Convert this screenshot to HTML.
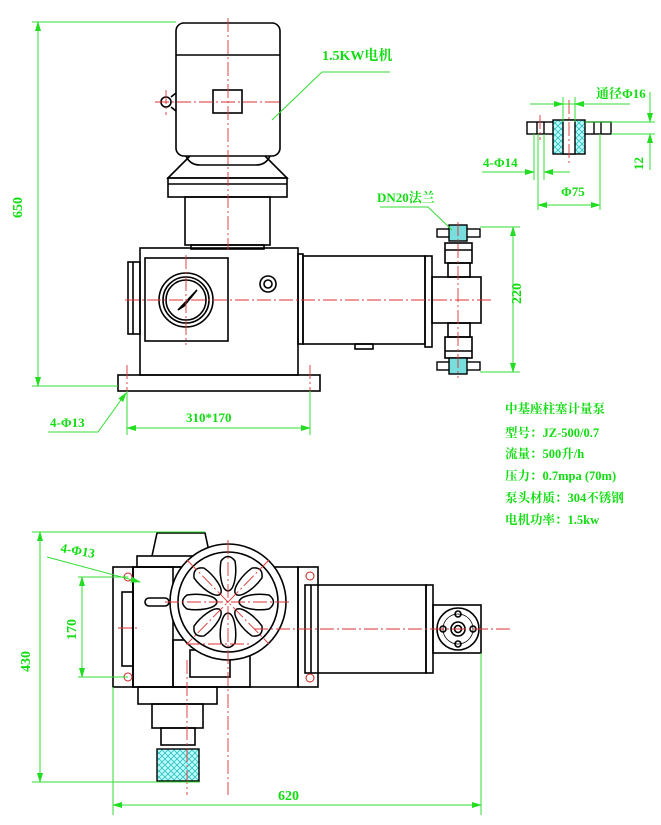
<!DOCTYPE html>
<html><head><meta charset="utf-8"><style>
html,body{margin:0;padding:0;background:#fff;}
svg{display:block;}
text{font-family:"Liberation Serif","Noto Serif CJK SC",serif;font-weight:bold;fill:#11dd11;}
</style></head><body>
<svg width="661" height="825" viewBox="0 0 661 825" xmlns="http://www.w3.org/2000/svg">
<defs>
<marker id="a" markerWidth="10" markerHeight="6" refX="9" refY="3" orient="auto-start-reverse"><path d="M0,0 L10,3 L0,6 z" fill="#22dd22"/></marker>
<pattern id="hx" width="6" height="6" patternUnits="userSpaceOnUse"><rect width="6" height="6" fill="#bff"/><path d="M0,0 L6,6 M6,0 L0,6" stroke="#3bb" stroke-width="0.8"/></pattern>
</defs>
<g fill="none" stroke="#000" stroke-width="1.6">
<rect x="176" y="23" width="104" height="133" rx="8"/>
<line x1="176" y1="55" x2="280" y2="55"/>
<rect x="213" y="90" width="29" height="23"/>
<circle cx="166" cy="102" r="5"/>
<path d="M171,97 L176,93 M171,107 L176,111"/>
<path d="M186,156 Q190,165 200,165 L256,165 Q266,165 270,156"/>
<path d="M190,156 L168,178 L287,178 L265,156"/>
<rect x="168" y="178" width="119" height="19"/>
<line x1="168" y1="184" x2="287" y2="184"/>
<rect x="185" y="197" width="85" height="48"/>
<rect x="191" y="245" width="73" height="4"/>
<rect x="140" y="248" width="158" height="127"/>
<rect x="128" y="262" width="12" height="72"/>
<line x1="133" y1="262" x2="133" y2="334"/>
<rect x="145" y="258" width="83" height="83"/>
<circle cx="186" cy="300" r="27"/>
<circle cx="186" cy="300" r="23"/>
<circle cx="186" cy="300" r="20"/>
<path d="M178,310 L197,290 L184,306 z" fill="#000"/>
<circle cx="268" cy="284" r="8"/>
<circle cx="268" cy="284" r="4"/>
<rect x="118" y="375" width="202" height="16"/>
<rect x="298" y="254" width="5" height="90"/>
<rect x="303" y="256" width="122" height="88"/>
<rect x="425" y="256" width="7" height="91"/>
<rect x="432" y="277" width="49" height="46"/>
<rect x="355" y="344" width="18" height="5"/>
<rect x="445" y="243" width="27" height="20"/>
<line x1="445" y1="250" x2="472" y2="250"/>
<rect x="448" y="263" width="22" height="14"/>
<rect x="448" y="323" width="22" height="14"/>
<rect x="445" y="337" width="27" height="21"/>
<line x1="445" y1="351" x2="472" y2="351"/>
</g>
<g stroke="#000" stroke-width="1.4">
<rect x="437" y="229" width="43" height="8" fill="#fff"/>
<rect x="449" y="225" width="18" height="16" fill="#7dd"/>
<rect x="437" y="362" width="43" height="8" fill="#fff"/>
<rect x="449" y="358" width="18" height="16" fill="#7dd"/>
</g>
<g stroke="#000" stroke-width="1.4">
<rect x="527" y="122" width="84" height="12" fill="#fff"/>
<rect x="553" y="120" width="32" height="34" fill="url(#hx)"/>
<rect x="563" y="120" width="12" height="34" fill="#fff"/>
<line x1="537" y1="122" x2="537" y2="134"/><line x1="544" y1="122" x2="544" y2="134"/>
<line x1="594" y1="122" x2="594" y2="134"/><line x1="601" y1="122" x2="601" y2="134"/>
</g>
<g fill="none" stroke="#000" stroke-width="1.6">
<path d="M152,556 L157,533 L205,533 L210,556"/>
<rect x="137" y="556" width="58" height="11"/>
<rect x="113" y="567" width="20" height="120"/>
<rect x="122" y="592" width="11" height="74"/>
<rect x="133" y="567" width="40" height="120"/>
<rect x="173" y="640" width="77" height="47"/>
<rect x="190" y="650" width="40" height="27"/>
<rect x="298" y="567" width="20" height="120"/>
<rect x="133" y="567" width="165" height="120"/>
<rect x="145" y="598" width="24" height="8" rx="4"/>
<circle cx="228" cy="602" r="58" fill="#fff"/>
<circle cx="228" cy="602" r="50"/>
<rect x="138" y="687" width="79" height="17"/>
<rect x="152" y="704" width="51" height="24"/>
<rect x="161" y="728" width="34" height="17"/>
<rect x="305" y="585" width="121" height="88"/>
<line x1="311" y1="585" x2="311" y2="673"/>
<rect x="426" y="585" width="7" height="88"/>
<rect x="433" y="605" width="48" height="48"/>
<circle cx="458" cy="629" r="21"/>
<circle cx="458" cy="629" r="15" stroke-width="0.8"/>
<circle cx="458" cy="629" r="7"/><circle cx="458" cy="629" r="3.5"/>
<circle cx="458" cy="614" r="3"/><circle cx="458" cy="644" r="3"/>
<circle cx="443" cy="629" r="3"/><circle cx="473" cy="629" r="3"/>
</g>
<g fill="none" stroke="#000" stroke-width="1.5">
<g id="p"><path d="M228,591 C221,590 219,572 221,561 Q228,552 235,561 C237,572 235,590 228,591 z"/></g>
<use href="#p" transform="rotate(45 228 602)"/><use href="#p" transform="rotate(90 228 602)"/>
<use href="#p" transform="rotate(135 228 602)"/><use href="#p" transform="rotate(180 228 602)"/>
<use href="#p" transform="rotate(225 228 602)"/><use href="#p" transform="rotate(270 228 602)"/>
<use href="#p" transform="rotate(315 228 602)"/>
</g>
<g stroke="#c22" stroke-width="1" fill="none">
<circle cx="128" cy="577" r="4"/><circle cx="128" cy="677" r="4"/>
<circle cx="310" cy="576" r="4"/><circle cx="310" cy="678" r="4"/>
</g>
<rect x="157" y="749" width="42" height="32" fill="url(#hx)" stroke="#000" stroke-width="1.4"/>
<g stroke="#d33" stroke-width="0.9" stroke-dasharray="14,3,2,3" fill="none">
<line x1="228" y1="18" x2="228" y2="250"/>
<line x1="155" y1="102" x2="282" y2="102"/>
<line x1="166" y1="90" x2="166" y2="115"/>
<line x1="125" y1="300" x2="492" y2="300"/>
<line x1="186" y1="255" x2="186" y2="345"/>
<line x1="127" y1="365" x2="127" y2="432"/>
<line x1="310" y1="365" x2="310" y2="432"/>
<line x1="458" y1="222" x2="458" y2="378"/>
<line x1="228" y1="540" x2="228" y2="795"/>
<line x1="165" y1="602" x2="290" y2="602"/>
<line x1="254" y1="629" x2="510" y2="629"/>
<line x1="186" y1="644" x2="250" y2="644"/>
<line x1="187" y1="660" x2="187" y2="795"/>
<line x1="187" y1="560" x2="269" y2="644"/>
<line x1="269" y1="560" x2="187" y2="644"/>
<line x1="118" y1="628" x2="138" y2="628"/>
<line x1="569" y1="100" x2="569" y2="165"/>
<line x1="540" y1="115" x2="540" y2="140"/>
</g>
<g stroke="#33dd33" stroke-width="1" fill="none">
<line x1="32" y1="22" x2="176" y2="22"/>
<line x1="32" y1="386" x2="118" y2="386"/>
<line x1="38" y1="22" x2="38" y2="386" marker-start="url(#a)" marker-end="url(#a)"/>
<line x1="127" y1="391" x2="127" y2="435"/>
<line x1="310" y1="391" x2="310" y2="435"/>
<line x1="127" y1="428" x2="310" y2="428" marker-start="url(#a)" marker-end="url(#a)"/>
<path d="M48,432 L98,432 L126,393" marker-end="url(#a)"/>
<line x1="480" y1="227" x2="520" y2="227"/>
<line x1="480" y1="372" x2="520" y2="372"/>
<line x1="513" y1="227" x2="513" y2="372" marker-start="url(#a)" marker-end="url(#a)"/>
<path d="M322,72 L390,72 M322,72 L272,120"/>
<path d="M380,207 L428,207 L452,230"/>
<line x1="32" y1="532" x2="205" y2="532"/>
<line x1="32" y1="782" x2="200" y2="782"/>
<line x1="40" y1="532" x2="40" y2="782" marker-start="url(#a)" marker-end="url(#a)"/>
<line x1="78" y1="577" x2="128" y2="577"/>
<line x1="78" y1="677" x2="128" y2="677"/>
<line x1="82" y1="577" x2="82" y2="677" marker-start="url(#a)" marker-end="url(#a)"/>
<line x1="47" y1="557" x2="140" y2="582" marker-end="url(#a)"/>
<line x1="113" y1="687" x2="113" y2="815"/>
<line x1="481" y1="653" x2="481" y2="815"/>
<line x1="113" y1="805" x2="481" y2="805" marker-start="url(#a)" marker-end="url(#a)"/>
<line x1="530" y1="104" x2="630" y2="104"/>
<line x1="563" y1="97" x2="563" y2="122"/><line x1="575" y1="97" x2="575" y2="122"/>
<line x1="548" y1="104" x2="563" y2="104" marker-end="url(#a)"/>
<line x1="590" y1="104" x2="575" y2="104" marker-end="url(#a)"/>
<line x1="585" y1="122" x2="655" y2="122"/><line x1="611" y1="134" x2="655" y2="134"/>
<line x1="650" y1="92" x2="650" y2="122" marker-end="url(#a)"/>
<line x1="650" y1="170" x2="650" y2="134" marker-end="url(#a)"/>
<line x1="534" y1="134" x2="534" y2="180"/><line x1="544" y1="134" x2="544" y2="180"/>
<line x1="538" y1="134" x2="538" y2="210"/><line x1="600" y1="134" x2="600" y2="210"/>
<line x1="538" y1="205" x2="600" y2="205" marker-start="url(#a)" marker-end="url(#a)"/>
<line x1="482" y1="172" x2="534" y2="172" marker-end="url(#a)"/>
<line x1="570" y1="172" x2="544" y2="172" marker-end="url(#a)"/>
</g>
<text x="322" y="60" font-size="14">1.5KW电机</text>
<text x="377" y="202" font-size="13">DN20法兰</text>
<text x="50" y="427" font-size="13">4-Φ13</text>
<text x="186" y="422" font-size="13">310*170</text>
<text x="0" y="0" font-size="14" transform="translate(22,218) rotate(-90)">650</text>
<text x="0" y="0" font-size="14" transform="translate(521,304) rotate(-90)">220</text>
<text x="596" y="98" font-size="13">通径Φ16</text>
<text x="0" y="0" font-size="13" transform="translate(643,170) rotate(-90)">12</text>
<text x="483" y="167" font-size="13">4-Φ14</text>
<text x="561" y="196" font-size="13">Φ75</text>
<text x="60" y="552" font-size="13" transform="rotate(10 60 552)">4-Φ13</text>
<text x="0" y="0" font-size="14" transform="translate(76,640) rotate(-90)">170</text>
<text x="0" y="0" font-size="14" transform="translate(30,672) rotate(-90)">430</text>
<text x="278" y="800" font-size="14">620</text>
<g font-size="12.5">
<text x="505" y="413">中基座柱塞计量泵</text>
<text x="505" y="437">型号：JZ-500/0.7</text>
<text x="505" y="458">流量：500升/h</text>
<text x="505" y="480">压力：0.7mpa (70m)</text>
<text x="505" y="502">泵头材质：304不锈钢</text>
<text x="505" y="524">电机功率：1.5kw</text>
</g>
</svg>
</body></html>
